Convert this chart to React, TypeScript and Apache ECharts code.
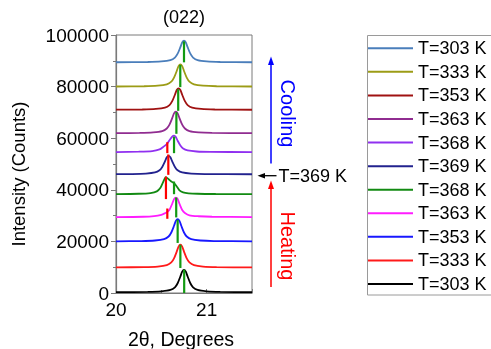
import React, { useEffect, useRef } from "react";
import * as echarts from "echarts";

const FONT = "'Liberation Sans', Arial, Helvetica, sans-serif";

// Diffraction curves: [2θ (degrees), intensity (counts)], offset stacked
const c303Cool: [number, number][] = [
  [20.0, 89440], [20.35, 89530], [20.5, 89740], [20.6, 90240], [20.65, 91240], [20.68, 92750],
  [20.71, 95270], [20.73, 97110], [20.75, 97780], [20.77, 97110], [20.79, 95270], [20.82, 92750],
  [20.85, 91240], [20.9, 90240], [21.0, 89740], [21.15, 89530], [21.5, 89430],
];
const c333Cool: [number, number][] = [
  [20.0, 80040], [20.31, 80130], [20.46, 80350], [20.56, 80870], [20.61, 81900], [20.64, 83460],
  [20.67, 86060], [20.69, 87960], [20.71, 88650], [20.73, 87960], [20.75, 86060], [20.78, 83460],
  [20.81, 81900], [20.86, 80870], [20.96, 80350], [21.11, 80130], [21.5, 80030],
];
const c353Cool: [number, number][] = [
  [20.0, 71040], [20.29, 71130], [20.44, 71330], [20.54, 71840], [20.59, 72840], [20.62, 74340],
  [20.65, 76850], [20.67, 78680], [20.69, 79350], [20.71, 78680], [20.73, 76850], [20.76, 74340],
  [20.79, 72840], [20.84, 71840], [20.94, 71330], [21.09, 71130], [21.5, 71030],
];
const c363Cool: [number, number][] = [
  [20.0, 61940], [20.26, 62030], [20.41, 62240], [20.51, 62740], [20.56, 63750], [20.59, 65260],
  [20.62, 67780], [20.64, 69630], [20.66, 70300], [20.68, 69630], [20.7, 67780], [20.73, 65260],
  [20.76, 63750], [20.81, 62740], [20.91, 62240], [21.06, 62030], [21.5, 61930],
];
const c368Cool: [number, number][] = [
  [20.0, 54640], [20.25, 54760], [20.4, 55000], [20.48, 55650], [20.52, 56600], [20.56, 57700],
  [20.59, 59200], [20.62, 60600], [20.64, 61000], [20.66, 60500], [20.68, 59000], [20.71, 57200],
  [20.74, 56000], [20.79, 55250], [20.89, 54850], [21.04, 54700], [21.5, 54620],
];
const c369: [number, number][] = [
  [20.0, 46040], [20.18, 46110], [20.33, 46290], [20.43, 46720], [20.48, 47570], [20.51, 48860],
  [20.54, 51000], [20.56, 52580], [20.58, 53150], [20.6, 52580], [20.62, 51000], [20.65, 48860],
  [20.68, 47570], [20.73, 46720], [20.83, 46290], [20.98, 46110], [21.5, 46030],
];
const c368Heat: [number, number][] = [
  [20.0, 38340], [20.25, 38470], [20.38, 38750], [20.45, 39400], [20.49, 40800], [20.52, 43000],
  [20.55, 44900], [20.58, 44100], [20.61, 43200], [20.64, 42600], [20.67, 41300], [20.7, 39800],
  [20.74, 39000], [20.8, 38650], [20.9, 38470], [21.1, 38380], [21.5, 38320],
];
const c363Heat: [number, number][] = [
  [20.0, 29440], [20.3, 29560], [20.42, 29800], [20.5, 30300], [20.54, 30900], [20.56, 31300],
  [20.59, 32300], [20.62, 34600], [20.64, 36400], [20.66, 37000], [20.68, 36500], [20.7, 34600],
  [20.73, 32200], [20.76, 31000], [20.81, 30100], [20.91, 29750], [21.06, 29550], [21.5, 29430],
];
const c353Heat: [number, number][] = [
  [20.0, 20040], [20.28, 20130], [20.43, 20350], [20.53, 20870], [20.58, 21900], [20.61, 23460],
  [20.64, 26060], [20.66, 27960], [20.68, 28650], [20.7, 27960], [20.72, 26060], [20.75, 23460],
  [20.78, 21900], [20.83, 20870], [20.93, 20350], [21.08, 20130], [21.5, 20030],
];
const c333Heat: [number, number][] = [
  [20.0, 9940], [20.31, 10030], [20.46, 10250], [20.56, 10780], [20.61, 11840], [20.64, 13420],
  [20.67, 16060], [20.69, 18000], [20.71, 18700], [20.73, 18000], [20.75, 16060], [20.78, 13420],
  [20.81, 11840], [20.86, 10780], [20.96, 10250], [21.11, 10030], [21.5, 9930],
];
const c303Heat: [number, number][] = [
  [20.0, 340], [20.35, 430], [20.5, 650], [20.6, 1170], [20.65, 2210], [20.68, 3780],
  [20.71, 6390], [20.73, 8300], [20.75, 9000], [20.77, 8300], [20.79, 6390], [20.82, 3780],
  [20.85, 2210], [20.9, 1170], [21.0, 650], [21.15, 430], [21.5, 330],
];

// Legend labels (top to bottom) and curve colors
const curveNames = [
  "T=303 K|c", "T=333 K|c", "T=353 K|c", "T=363 K|c", "T=368 K|c", "T=369 K",
  "T=368 K|h", "T=363 K|h", "T=353 K|h", "T=333 K|h", "T=303 K|h",
];
const curveColors = [
  "#4a7ebb", "#9c9c16", "#a01212", "#902c90", "#9030f0", "#22228e",
  "#128a12", "#ff1cff", "#1818ff", "#ff1a1a", "#000000",
];
const curveData = [
  c303Cool, c333Cool, c353Cool, c363Cool, c368Cool, c369,
  c368Heat, c363Heat, c353Heat, c333Heat, c303Heat,
];

// Peak position markers: [2θ, from counts, to counts]
const greenMarks: [number, number, number][] = [
  [20.75, 89400, 97500], [20.709, 79800, 88400], [20.686, 70600, 79000], [20.666, 61700, 70100],
  [20.64, 54200, 60600], [20.64, 38300, 43200], [20.664, 29300, 37000], [20.68, 19400, 28400],
  [20.71, 9700, 18700], [20.752, 0, 9000],
];
const redMarks: [number, number, number][] = [
  [20.566, 54200, 58450], [20.577, 45800, 53700], [20.551, 36400, 45100], [20.566, 28760, 32750],
];

// Axis settings
const xMin = 20, xMax = 21.5, xStep = 1;
const yMin = 0, yMax = 100000, yStep = 20000;

export default function App() {
  const ref = useRef<HTMLDivElement>(null);
  useEffect(() => {
    if (!ref.current) return;
    const chart = echarts.init(ref.current, undefined, { renderer: "svg" });
    const curveSeries = curveNames.map((name, i) => ({
      name,
      type: "line",
      data: curveData[i],
      symbol: "none",
      smooth: 0.25,
      lineStyle: { color: curveColors[i], width: 1.8 },
      itemStyle: { color: curveColors[i] },
      z: 2,
    }));
    const markSeries = [
      ...greenMarks.map((m) => ({ c: "#129a12", m })),
      ...redMarks.map((m) => ({ c: "#ff0000", m })),
    ].map(({ c, m }) => ({
      type: "line",
      data: [[m[0], m[1]], [m[0], m[2]]],
      symbol: "none",
      silent: true,
      lineStyle: { color: c, width: 2.2 },
      z: 3,
    }));
    const axisColor = "#7a7a7a";
    chart.setOption({
      animation: false,
      grid: { left: 116, right: 239, top: 35, bottom: 56, show: true, borderColor: axisColor, borderWidth: 1 },
      xAxis: {
        type: "value",
        min: xMin,
        max: xMax,
        interval: xStep,
        axisLine: { show: true, lineStyle: { color: axisColor, width: 1.2 } },
        axisTick: { show: true, inside: true, length: 4, lineStyle: { color: axisColor } },
        minorTick: { show: true, splitNumber: 2, length: 3, lineStyle: { color: axisColor } },
        splitLine: { show: false },
        axisLabel: { color: "#000", fontSize: 19, fontFamily: FONT, margin: 7, showMaxLabel: false },
      },
      yAxis: {
        type: "value",
        min: yMin,
        max: yMax,
        interval: yStep,
        axisLine: { show: true, lineStyle: { color: axisColor, width: 1.2 } },
        axisTick: { show: true, inside: false, length: 5, lineStyle: { color: axisColor } },
        minorTick: { show: true, splitNumber: 2, length: 3, lineStyle: { color: axisColor } },
        splitLine: { show: false },
        axisLabel: { color: "#000", fontSize: 19, fontFamily: FONT, margin: 7, formatter: (v: number) => String(v) },
      },
      legend: {
        data: curveNames,
        orient: "vertical",
        left: 368,
        top: 39.3,
        padding: 0,
        icon: "rect",
        itemWidth: 45,
        itemHeight: 2,
        itemGap: 5.57,
        formatter: (n: string) => n.split("|")[0],
        textStyle: { color: "#000", fontSize: 18, fontFamily: FONT, lineHeight: 18 },
        selectedMode: false,
      },
      graphic: [
        { type: "rect", shape: { x: 367.5, y: 35.5, width: 200, height: 259.5 }, style: { fill: "none", stroke: "#9a9a9a", lineWidth: 1 } },
        { type: "text", x: 184, y: 17, style: { text: "(022)", fill: "#000", font: `18px ${FONT}`, textAlign: "center", textVerticalAlign: "middle" } },
        { type: "text", x: 18.5, y: 174, rotation: Math.PI / 2, style: { text: "Intensity (Counts)", fill: "#000", font: `18.5px ${FONT}`, textAlign: "center", textVerticalAlign: "middle" } },
        { type: "text", x: 181, y: 339, style: { text: "2θ, Degrees", fill: "#000", font: `19.5px ${FONT}`, textAlign: "center", textVerticalAlign: "middle" } },
        // Cooling arrow
        { type: "line", shape: { x1: 271, y1: 163.5, x2: 271, y2: 63 }, style: { stroke: "#0000ff", lineWidth: 1.5 } },
        { type: "polygon", shape: { points: [[271, 56.5], [268, 65], [274, 65]] }, style: { fill: "#0000ff" } },
        { type: "text", x: 287.5, y: 113.5, rotation: -Math.PI / 2, style: { text: "Cooling", fill: "#0000ff", font: `20px ${FONT}`, textAlign: "center", textVerticalAlign: "middle" } },
        // Heating arrow
        { type: "line", shape: { x1: 271, y1: 287, x2: 271, y2: 187 }, style: { stroke: "#ff0000", lineWidth: 1.5 } },
        { type: "polygon", shape: { points: [[271, 180.5], [268, 189], [274, 189]] }, style: { fill: "#ff0000" } },
        { type: "text", x: 287.5, y: 246, rotation: -Math.PI / 2, style: { text: "Heating", fill: "#ff0000", font: `20px ${FONT}`, textAlign: "center", textVerticalAlign: "middle" } },
        // T=369 K pointer
        { type: "line", shape: { x1: 276.5, y1: 175.7, x2: 263, y2: 175.7 }, style: { stroke: "#000", lineWidth: 1.3 } },
        { type: "polygon", shape: { points: [[257.5, 175.7], [265, 173], [265, 178.4]] }, style: { fill: "#000" } },
        { type: "text", x: 278.5, y: 176, style: { text: "T=369 K", fill: "#000", font: `18px ${FONT}`, textAlign: "left", textVerticalAlign: "middle" } },
      ],
      series: [...curveSeries, ...markSeries],
    });
    return () => chart.dispose();
  }, []);
  return <div ref={ref} style={{ position: "fixed", left: 0, top: 0, width: 491, height: 349 }} />;
}
